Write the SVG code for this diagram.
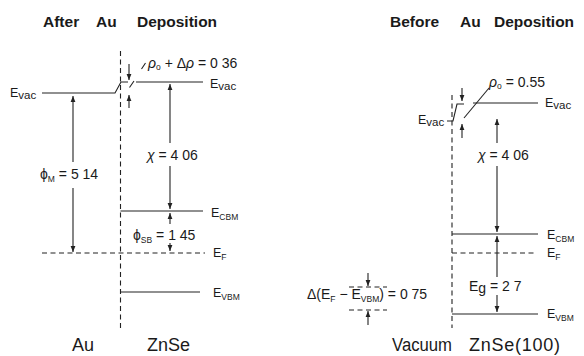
<svg xmlns="http://www.w3.org/2000/svg" width="584" height="356" viewBox="0 0 584 356">
<style>
text{font-family:"Liberation Sans","DejaVu Sans",sans-serif;fill:#1a1a1a}
.t{font-size:15.5px;font-weight:bold}
.b{font-size:18px}
.l{font-size:14px}
.e{font-size:12.5px}
.s{font-size:8.5px}
.v{font-size:11.5px}
.ln{stroke:#222;stroke-width:1.1;fill:none}
.d{stroke-dasharray:5 3.5}
.ar{marker-end:url(#ah)}
</style>
<defs>
<marker id="ah" viewBox="0 0 6 6" refX="6" refY="3" markerWidth="6" markerHeight="6" markerUnits="userSpaceOnUse" orient="auto">
<path d="M0,0.6 L6,3 L0,5.4 z" fill="#222"/>
</marker>
</defs>
<rect width="584" height="356" fill="#fff"/>

<g id="title-after"><text class="t" y="27"><tspan x="43">After</tspan><tspan x="96">Au</tspan><tspan x="137">Deposition</tspan></text></g>
<g id="title-before"><text class="t" y="27"><tspan x="390">Before</tspan><tspan x="460">Au</tspan><tspan x="494">Deposition</tspan></text></g>

<!-- Left: After Au deposition -->
<g id="au-evac">
<path class="ln" d="M42,93 H115 L121,82 H128"/>
<text class="e" x="10" y="97">E<tspan class="v" dy="2">vac</tspan></text>
</g>
<g id="interface-left"><path class="ln d" d="M120.5,51 V328"/></g>
<g id="znse-evac">
<path class="ln" d="M136,82 H203"/>
<text class="e" x="210" y="88">E<tspan class="v" dy="2">vac</tspan></text>
</g>
<g id="dipole-left">
<text class="l" x="148" y="68"><tspan font-style="italic">ρ</tspan><tspan class="s" dy="2">o</tspan><tspan dy="-2"> + Δ</tspan><tspan font-style="italic">ρ</tspan> = 0 36</text>
</g>
<g id="znse-cbm">
<path class="ln" d="M120.5,211 H203"/>
<text class="e" x="211" y="217">E<tspan class="s" dy="3">CBM</tspan></text>
</g>
<g id="ef-left">
<path class="ln d" d="M42,253 H205"/>
<text class="e" x="213" y="257">E<tspan class="s" dy="3">F</tspan></text>
</g>
<g id="znse-vbm">
<path class="ln" d="M120.5,292 H200"/>
<text class="e" x="213" y="297">E<tspan class="s" dy="3">VBM</tspan></text>
</g>
<g id="phim-label"><text class="l" x="40" y="179">ϕ<tspan class="s" dy="3">M</tspan><tspan dy="-3"> = 5 14</tspan></text></g>
<g id="chi-left-label"><text class="l" x="147" y="160"><tspan font-style="italic">χ</tspan> = 4 06</text></g>
<g id="phisb-label"><text class="l" x="133" y="240">ϕ<tspan class="s" dy="3">SB</tspan><tspan dy="-3"> = 1 45</tspan></text></g>
<g id="label-au"><text class="b" x="72" y="351">Au</text></g>
<g id="label-znse"><text class="b" x="147" y="351">ZnSe</text></g>

<!-- Right: Before Au deposition -->
<g id="interface-right"><path class="ln d" d="M452,95 V328"/></g>
<g id="vac-evac">
<path class="ln" d="M447,121 H453 L457,104 H464"/>
<text class="e" x="418" y="124">E<tspan class="v" dy="2">vac</tspan></text>
</g>
<g id="znse100-evac">
<path class="ln" d="M473,103 H538"/>
<text class="e" x="545" y="107">E<tspan class="v" dy="2">vac</tspan></text>
</g>
<g id="dipole-right"><text class="l" x="489" y="87"><tspan font-style="italic">ρ</tspan><tspan class="s" dy="2">o</tspan><tspan dy="-2"> = 0.55</tspan></text></g>
<g id="chi-right-label"><text class="l" x="478" y="160"><tspan font-style="italic">χ</tspan> = 4 06</text></g>
<g id="znse100-cbm">
<path class="ln" d="M452,234 H538"/>
<text class="e" x="547" y="239">E<tspan class="s" dy="3">CBM</tspan></text>
</g>
<g id="ef-right">
<path class="ln d" d="M452,253 H537"/>
<text class="e" x="547" y="257">E<tspan class="s" dy="3">F</tspan></text>
</g>
<g id="eg-label"><text class="l" x="469" y="291">E<tspan dy="2">g</tspan><tspan dy="-2"> = 2 7</tspan></text></g>
<g id="znse100-vbm">
<path class="ln" d="M452,314 H538"/>
<text class="e" x="547" y="318">E<tspan class="s" dy="3">VBM</tspan></text>
</g>
<g id="delta-label">
<text class="l" x="307" y="299">Δ(E<tspan class="s" dy="3">F</tspan><tspan dy="-3"> − E</tspan><tspan class="s" dy="3">VBM</tspan><tspan dy="-3">) = 0 75</tspan></text>
<path class="ln d" d="M349,287 H387 M349,310 H387"/>
</g>
<g id="label-vacuum"><text class="b" x="392" y="351" textLength="60" lengthAdjust="spacingAndGlyphs">Vacuum</text></g>
<g id="label-znse100"><text class="b" x="469" y="351" textLength="91" lengthAdjust="spacing">ZnSe(100)</text></g>

<g id="connectors">
<path class="ln ar" d="M129,64 V80"/>
<path class="ln ar" d="M129,108 V95"/>
<path class="ln" d="M129.5,87.5 L134,81 M141.5,69 L145.5,63"/>
<path class="ln ar" d="M73,162 V96"/>
<path class="ln ar" d="M73,188 V252"/>
<path class="ln ar" d="M170,143 V84"/>
<path class="ln ar" d="M170,166 V209"/>
<path class="ln ar" d="M170,224 V213"/>
<path class="ln ar" d="M170,243 V251"/>
<path class="ln ar" d="M462,88 V101"/>
<path class="ln ar" d="M462,138 V124"/>
<path class="ln" d="M464,118 L489,88"/>
<path class="ln ar" d="M497,143 V119"/>
<path class="ln ar" d="M497,166 V232"/>
<path class="ln ar" d="M497,277 V236"/>
<path class="ln ar" d="M497,295 V312"/>
<path class="ln ar" d="M368,273 V286"/>
<path class="ln ar" d="M368,325 V311"/>
</g>
</svg>
